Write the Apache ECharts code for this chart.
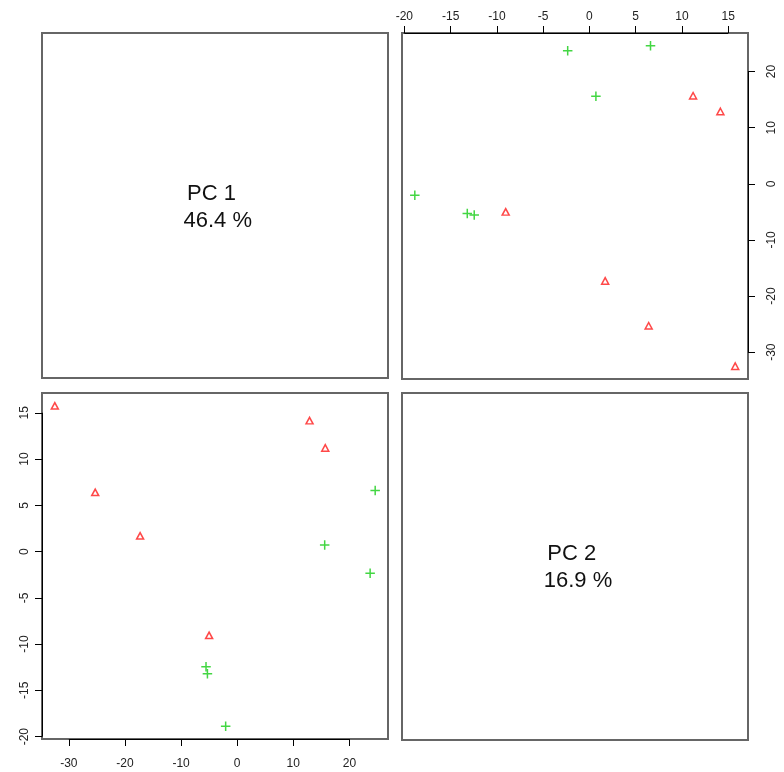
<!DOCTYPE html>
<html>
<head>
<meta charset="utf-8">
<script src="https://cdn.jsdelivr.net/npm/echarts@6/dist/echarts.min.js"></script>
<style>
  html, body { margin: 0; padding: 0; background: #fff; }
  #chart { width: 784px; height: 772px; }
</style>
</head>
<body>
<div id="chart"></div>
<script>
// Principal component scores of the two sample groups
const pc1Red   = [-32.5, -25.3, -17.3, -5.0, 12.9, 15.7];
const pc2Red   = [15.75, 6.4, 1.7, -9.05, 14.15, 11.2];
const pc1Green = [24.6, 15.6, 23.7, -5.55, -5.3, -2.05];
const pc2Green = [6.6, 0.7, -2.35, -12.45, -13.2, -18.87];

// Diagonal captions
const pcNames = ['PC 1', 'PC 2'];
const varExplained = [46.4, 16.9];

// Tick marks
const pc1Ticks = [-30, -20, -10, 0, 10, 20];
const pc2Ticks = [-20, -15, -10, -5, 0, 5, 10, 15];

// Range padded 4% on each side, like base R graphics
function padRange(vals) {
  const lo = Math.min(...vals), hi = Math.max(...vals);
  const pad = (hi - lo) * 0.04;
  return [lo - pad, hi + pad];
}
const pc1Range = padRange(pc1Red.concat(pc1Green));
const pc2Range = padRange(pc2Red.concat(pc2Green));

const RED = '#ff1a1a';
const GREEN = '#14cc14';
const FONT = '"Liberation Sans", Arial, sans-serif';
const PLUS = 'path://M0,5L10,5M5,0L5,10';

const boxStyle = { show: true, borderColor: '#666', borderWidth: 2, backgroundColor: 'transparent' };

function hiddenAxis(i) { return { gridIndex: i, type: 'value', show: false, min: 0, max: 1 }; }

function valueAxis(i, pos, range, ticks, rotate, margin) {
  return {
    gridIndex: i, type: 'value', position: pos,
    min: range[0], max: range[1],
    splitLine: { show: false },
    axisLine: { show: false, onZero: false },
    axisTick: { show: true, customValues: ticks, length: 7, lineStyle: { color: '#000', width: 1 } },
    axisLabel: {
      show: true, customValues: ticks, rotate: rotate, margin: margin,
      color: '#222', fontSize: 12, fontFamily: FONT
    }
  };
}

function zip(xs, ys) { return xs.map((x, k) => [x, ys[k]]); }

// Axis line spanning first to last tick, sitting on the panel edge
function axisSegments(xTicks, yTicks, yAt, xAt) {
  return {
    silent: true, symbol: 'none', label: { show: false },
    lineStyle: { color: '#000', width: 1, type: 'solid' },
    emphasis: { disabled: true },
    data: [
      [{ coord: [xTicks[0], yAt] }, { coord: [xTicks[xTicks.length - 1], yAt] }],
      [{ coord: [xAt, yTicks[0]] }, { coord: [xAt, yTicks[yTicks.length - 1]] }]
    ]
  };
}

function triangleSeries(i, data, markLine) {
  const s = {
    type: 'scatter', xAxisIndex: i, yAxisIndex: i, data: data, clip: false,
    symbol: 'triangle', symbolSize: [7, 6.5],
    itemStyle: { color: 'transparent', borderColor: RED, borderWidth: 1.5 },
    emphasis: { disabled: true }, z: 3
  };
  if (markLine) s.markLine = markLine;
  return s;
}
function plusSeries(i, data) {
  return {
    type: 'scatter', xAxisIndex: i, yAxisIndex: i, data: data, clip: false,
    symbol: PLUS, symbolSize: 9.5,
    itemStyle: { color: 'transparent', borderColor: GREEN, borderWidth: 1.5 },
    emphasis: { disabled: true }, z: 3
  };
}

function caption(x, y, text) {
  return {
    type: 'text', x: x, y: y, silent: true,
    style: { text: text, fill: '#111', font: '22px ' + FONT, align: 'center', verticalAlign: 'middle' }
  };
}

const chart = echarts.init(document.getElementById('chart'), null, { renderer: 'canvas' });
chart.setOption({
  animation: false,
  backgroundColor: '#fff',
  grid: [
    Object.assign({ left: 42, top: 33, width: 346, height: 345 }, boxStyle),
    Object.assign({ left: 402, top: 33, width: 346, height: 346 }, boxStyle),
    Object.assign({ left: 42, top: 393, width: 346, height: 346 }, boxStyle),
    Object.assign({ left: 402, top: 393, width: 346, height: 347 }, boxStyle)
  ],
  xAxis: [
    hiddenAxis(0),
    valueAxis(1, 'top', pc2Range, pc2Ticks, 0, 10),
    valueAxis(2, 'bottom', pc1Range, pc1Ticks, 0, 19),
    hiddenAxis(3)
  ],
  yAxis: [
    hiddenAxis(0),
    valueAxis(1, 'right', pc1Range, pc1Ticks, 90, 18),
    valueAxis(2, 'left', pc2Range, pc2Ticks, 90, 11),
    hiddenAxis(3)
  ],
  series: [
    triangleSeries(1, zip(pc2Red, pc1Red), axisSegments(pc2Ticks, pc1Ticks, pc1Range[1], pc2Range[1])),
    plusSeries(1, zip(pc2Green, pc1Green)),
    triangleSeries(2, zip(pc1Red, pc2Red), axisSegments(pc1Ticks, pc2Ticks, pc2Range[0], pc1Range[0])),
    plusSeries(2, zip(pc1Green, pc2Green))
  ],
  graphic: [
    caption(211.5, 193.5, pcNames[0]),
    caption(217.7, 220.5, varExplained[0].toFixed(1) + ' %'),
    caption(571.7, 553.7, pcNames[1]),
    caption(578, 580.5, varExplained[1].toFixed(1) + ' %')
  ]
});
</script>
</body>
</html>
